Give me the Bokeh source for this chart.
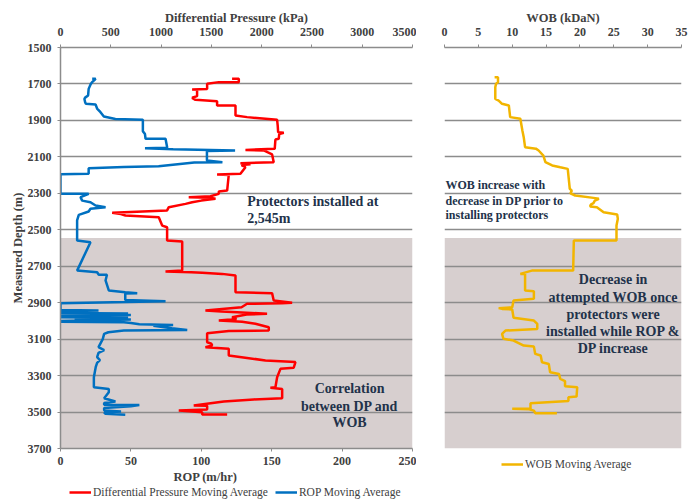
from bokeh.plotting import figure
from bokeh.models import (Range1d, LinearAxis, FixedTicker, BoxAnnotation, Legend,
                          LegendItem, Label)
from bokeh.layouts import row, column
from bokeh.embed import file_html
from bokeh.resources import INLINE

# ---------------- data ----------------
dp_depth = [1672, 1672, 1690, 1690, 1699, 1727, 1730, 1732, 1767, 1776, 1787, 1795, 1818, 1818,
            1873, 1882, 1897, 1930, 1965, 1968, 1975, 2001, 2005, 2056, 2062, 2065, 2087, 2129,
            2135, 2140, 2145, 2157, 2193, 2197, 2199, 2285, 2290, 2303, 2316, 2321, 2325, 2330,
            2340, 2349, 2358, 2376, 2394, 2407, 2414, 2422, 2431, 2477, 2486, 2559, 2565, 2724,
            2729, 2733, 2736, 2742, 2751, 2843, 2848, 2888, 2900, 2903, 2906, 2925, 2943, 2948,
            2952, 2961, 2965, 2980, 2990, 2998, 3005, 3016, 3035, 3053, 3055, 3068, 3117, 3125,
            3135, 3144, 3153, 3190, 3203, 3217, 3226, 3257, 3263, 3309, 3364, 3367, 3373, 3424,
            3431, 3442, 3464, 3466, 3486, 3492, 3501, 3514, 3514]
dp_value = [1706, 1773, 1773, 1574, 1458, 1458, 1309, 1358, 1358, 1309, 1342, 1557, 1557, 1740,
            1740, 1855, 2154, 2160, 2164, 2220, 2175, 2170, 2137, 2130, 1839, 2021, 2104, 2120,
            1789, 1889, 1800, 1839, 1789, 1557, 1673, 1657, 1574, 1574, 1491, 1275, 1500, 1541,
            1400, 1309, 1243, 1077, 1060, 514, 600, 646, 977, 1011, 1060, 1060, 1210, 1210,
            1044, 1300, 1409, 1607, 1740, 1740, 2104, 2120, 2303, 2200, 1855, 1800, 1441, 1600,
            1756, 2054, 1850, 1706, 1750, 1574, 1806, 1938, 2071, 2071, 1673, 1458, 1458, 1500,
            1508, 1441, 1673, 1673, 1855, 2038, 2336, 2319, 2187, 2154, 2137, 2087, 2204, 2204,
            1922, 1624, 1325, 1458, 1458, 1176, 1409, 1409, 1657]

rop_depth = [1672, 1672, 1690, 1700, 1727, 1763, 1775, 1782, 1800, 1809, 1813, 1835, 1855, 1879,
             1892, 1897, 1959, 1975, 2001, 2001, 2050, 2053, 2058, 2065, 2068, 2074, 2120, 2129,
             2131, 2151, 2155, 2162, 2193, 2195, 2303, 2303, 2321, 2340, 2349, 2367, 2376, 2385,
             2400, 2418, 2449, 2559, 2568, 2724, 2733, 2747, 2747, 2778, 2833, 2843, 2848, 2850,
             2885, 2892, 2903, 2940, 2943, 2947, 2957, 2960, 2963, 2968, 2972, 2980, 2983, 2987,
             2992, 2996, 3000, 3005, 3008, 3012, 3018, 3022, 3026, 3040, 3050, 3053, 3062, 3071,
             3100, 3144, 3160, 3175, 3199, 3215, 3230, 3254, 3309, 3364, 3373, 3391, 3424, 3442,
             3450, 3460, 3462, 3468, 3478, 3492, 3497, 3503, 3510, 3515]
rop_value = [22.5, 25, 22.5, 21.5, 20, 19.6, 17.5, 17, 17.5, 18, 24.9, 26, 28.4, 30.8,
             39, 58.5, 58.5, 60, 60.4, 74.6, 75.8, 60, 80, 124, 104, 104, 104, 115,
             95, 69.7, 45, 20, 20, 0, 0, 20, 14.2, 15.4, 21.3, 24.9, 32, 21.3,
             20, 13, 11.8, 11.8, 21.3, 11.8, 26, 27.2, 33, 32, 34.3, 46, 54.5, 46,
             46, 74.6, 0, 0, 27, 0, 0, 48, 5, 50, 0, 0, 48, 10,
             50, 25, 0, 0, 45, 50, 56, 80, 66, 79, 90, 45, 34, 31,
             30, 27, 31, 27, 26, 28, 26, 25, 23.7, 23.7, 34.3, 34.3, 31, 39,
             31, 31, 56, 50, 31, 31, 43, 31, 32, 46]

wob_depth = [1663, 1663, 1690, 1700, 1718, 1782, 1791, 1809, 1818, 1882, 1891, 1955, 1992, 2047,
             2055, 2065, 2093, 2129, 2147, 2157, 2166, 2275, 2285, 2300, 2312, 2325, 2330, 2340,
             2354, 2362, 2372, 2376, 2404, 2416, 2440, 2477, 2559, 2559, 2724, 2724, 2742, 2742,
             2833, 2837, 2879, 2888, 2925, 2930, 2934, 2937, 2983, 2998, 3016, 3044, 3053, 3071,
             3098, 3108, 3135, 3141, 3181, 3190, 3227, 3236, 3282, 3291, 3318, 3330, 3358, 3364,
             3415, 3419, 3440, 3452, 3482, 3482, 3485, 3492, 3506, 3506]
wob_value = [7.4, 7.9, 7.9, 7.6, 7.5, 7.5, 8.0, 8.5, 9.5, 9.7, 11.2, 11.5, 11.7, 11.9,
             13.5, 13.9, 14.6, 14.9, 15.9, 17.1, 18.2, 18.5, 18.8, 18.6, 19.3, 22.0, 22.8, 22.2,
             22.0, 21.6, 21.5, 22.5, 23.5, 25.5, 25.6, 25.4, 25.4, 19.1, 19.0, 12.9, 11.2, 11.9,
             11.9, 13.2, 13.2, 10.2, 10.0, 8.0, 8.5, 10.0, 10.2, 13.2, 13.7, 13.7, 9.0, 8.5,
             8.7, 10.2, 11.7, 13.2, 13.4, 14.2, 14.4, 15.4, 15.6, 16.9, 17.1, 17.8, 17.8, 19.6,
             19.5, 18.3, 18.3, 12.7, 12.7, 10.0, 12.5, 13.2, 13.4, 16.6]

depth_ticks = [1500, 1700, 1900, 2100, 2300, 2500, 2700, 2900, 3100, 3300, 3500, 3700]
dp_ticks = [0, 500, 1000, 1500, 2000, 2500, 3000, 3500]
rop_ticks = [0, 50, 100, 150, 200, 250]
wob_ticks = [0, 5, 10, 15, 20, 25, 30, 35]
protector_depth = 2545

# ---------------- styling ----------------
FONT = "Liberation Serif"
GRAY = "#8c8c8c"
TICK_TXT = "#404040"
NOTE = "#22324a"
SHADE = "#d7cfcf"
RED = "#ff0000"
BLUE = "#0070c0"
GOLD = "#f2b500"


def style_axis(ax, ticks, label=None):
    ax.ticker = FixedTicker(ticks=ticks)
    ax.axis_line_color = GRAY
    ax.axis_line_width = 1.5
    ax.major_tick_line_color = GRAY
    ax.major_tick_out = 3
    ax.major_tick_in = 0
    ax.minor_tick_line_color = None
    ax.major_label_text_font = FONT
    ax.major_label_text_font_style = "bold"
    ax.major_label_text_font_size = "12px"
    ax.major_label_text_color = TICK_TXT
    if label:
        ax.axis_label = label
        ax.axis_label_text_font = FONT
        ax.axis_label_text_font_style = "bold"
        ax.axis_label_text_font_size = "12.5px"
        ax.axis_label_text_color = TICK_TXT


def note(p, x, y, text, align="left", size="14px"):
    p.add_layout(Label(x=x, y=y, text=text, text_align=align, text_baseline="middle",
                       text_font=FONT, text_font_style="bold", text_font_size=size,
                       text_color=NOTE))


def style_legend(lg):
    lg.label_text_font = FONT
    lg.label_text_font_size = "11.5px"
    lg.label_text_color = TICK_TXT
    lg.glyph_width = 22
    lg.glyph_height = 12
    lg.label_standoff = 2
    lg.padding = 1
    lg.spacing = 7
    lg.margin = 0
    lg.border_line_color = None
    lg.background_fill_alpha = 0


def strip_fig(width, height):
    # range chosen so the series (drawn only to feed the legend keys) stay out of view
    f = figure(width=width, height=height, x_range=Range1d(-2, -1), y_range=Range1d(-2, -1),
               output_backend="svg", toolbar_location=None, x_axis_location=None,
               y_axis_location=None, min_border=0)
    f.outline_line_color = None
    f.xgrid.visible = False
    f.ygrid.visible = False
    return f


# ---------------- left panel ----------------
left = figure(width=416, height=470, x_range=Range1d(0, 250), y_range=Range1d(3700, 1500),
              output_backend="svg", toolbar_location=None, x_axis_location="below",
              min_border_left=60, min_border_right=4, min_border_top=47, min_border_bottom=22)
left.outline_line_color = None
left.extra_x_ranges = {"dp": Range1d(0, 3500)}

style_axis(left.xaxis[0], rop_ticks)
left.xaxis[0].major_label_standoff = 5
dp_axis = LinearAxis(x_range_name="dp")
style_axis(dp_axis, dp_ticks, "Differential Pressure (kPa)")
dp_axis.major_label_standoff = 9
dp_axis.axis_label_standoff = 0
left.add_layout(dp_axis, "above")
style_axis(left.yaxis[0], depth_ticks, "Measured Depth (m)")
left.yaxis[0].major_label_standoff = 6
left.yaxis[0].axis_label_standoff = 0

left.xgrid.visible = False
left.ygrid.ticker = FixedTicker(ticks=depth_ticks)
left.ygrid.grid_line_color = GRAY
left.ygrid.grid_line_width = 1.5

left.add_layout(BoxAnnotation(top=protector_depth, bottom=3700, fill_color=SHADE, fill_alpha=1,
                              line_color=None, level="image"))

left.line(dp_value, dp_depth, x_range_name="dp", line_color=RED, line_width=2.5)
left.line(rop_value, rop_depth, line_color=BLUE, line_width=2.5)

note(left, 132.6, 2345, "Protectors installed at")
note(left, 132.6, 2440, "2,545m")
note(left, 205.3, 3373, "Correlation", "center")
note(left, 205.3, 3470, "between DP and", "center")
note(left, 205.3, 3559, "WOB", "center")

# strip under the left panel: ROP axis title + legend
left_strip = strip_fig(416, 32)
left_strip.add_layout(Label(x=145, y=26, x_units="screen", y_units="screen", text="ROP (m/hr)",
                            text_align="center", text_baseline="middle", text_font=FONT,
                            text_font_style="bold", text_font_size="12.5px",
                            text_color=TICK_TXT))
k_dp = left_strip.line(dp_value, dp_depth, line_color=RED, line_width=2.5)
k_rop = left_strip.line(rop_value, rop_depth, line_color=BLUE, line_width=2.5)
leg_l = Legend(items=[LegendItem(label="Differential Pressure Moving Average", renderers=[k_dp]),
                      LegendItem(label="ROP Moving Average", renderers=[k_rop])],
               location=(9, 4), orientation="horizontal")
style_legend(leg_l)
left_strip.add_layout(leg_l)

# ---------------- right panel ----------------
right = figure(width=282, height=452, x_range=Range1d(0, 35), y_range=Range1d(3700, 1500),
               output_backend="svg", toolbar_location=None, x_axis_location="above",
               y_axis_location=None,
               min_border_left=28, min_border_right=17, min_border_top=47, min_border_bottom=4)
right.outline_line_color = None
style_axis(right.xaxis[0], wob_ticks, "WOB (kDaN)")
right.xaxis[0].major_label_standoff = 9
right.xaxis[0].axis_label_standoff = 0
right.xgrid.visible = False
right.ygrid.ticker = FixedTicker(ticks=depth_ticks[1:-1])
right.ygrid.grid_line_color = GRAY
right.ygrid.grid_line_width = 1.5

right.add_layout(BoxAnnotation(top=protector_depth, bottom=3700, fill_color=SHADE, fill_alpha=1,
                               line_color=None, level="image"))

right.line(wob_value, wob_depth, line_color=GOLD, line_width=2.5)

note(right, 0.15, 2257, "WOB increase with", size="12px")
note(right, 0.15, 2340, "decrease in DP prior to", size="12px")
note(right, 0.15, 2418, "installing protectors", size="12px")
note(right, 24.9, 2775, "Decrease in", "center")
note(right, 24.9, 2873, "attempted WOB once", "center")
note(right, 24.9, 2965, "protectors were", "center")
note(right, 24.9, 3057, "installed while ROP &", "center")
note(right, 24.9, 3150, "DP increase", "center")

right_strip = strip_fig(282, 50)
k_wob = right_strip.line(wob_value, wob_depth, line_color=GOLD, line_width=2.5)
leg_r = Legend(items=[LegendItem(label="WOB Moving Average", renderers=[k_wob])],
               location=(57, 32), orientation="horizontal")
style_legend(leg_r)
right_strip.add_layout(leg_r)

layout = row(column(left, left_strip), column(right, right_strip))
open("out.html", "w").write(file_html(layout, INLINE))
